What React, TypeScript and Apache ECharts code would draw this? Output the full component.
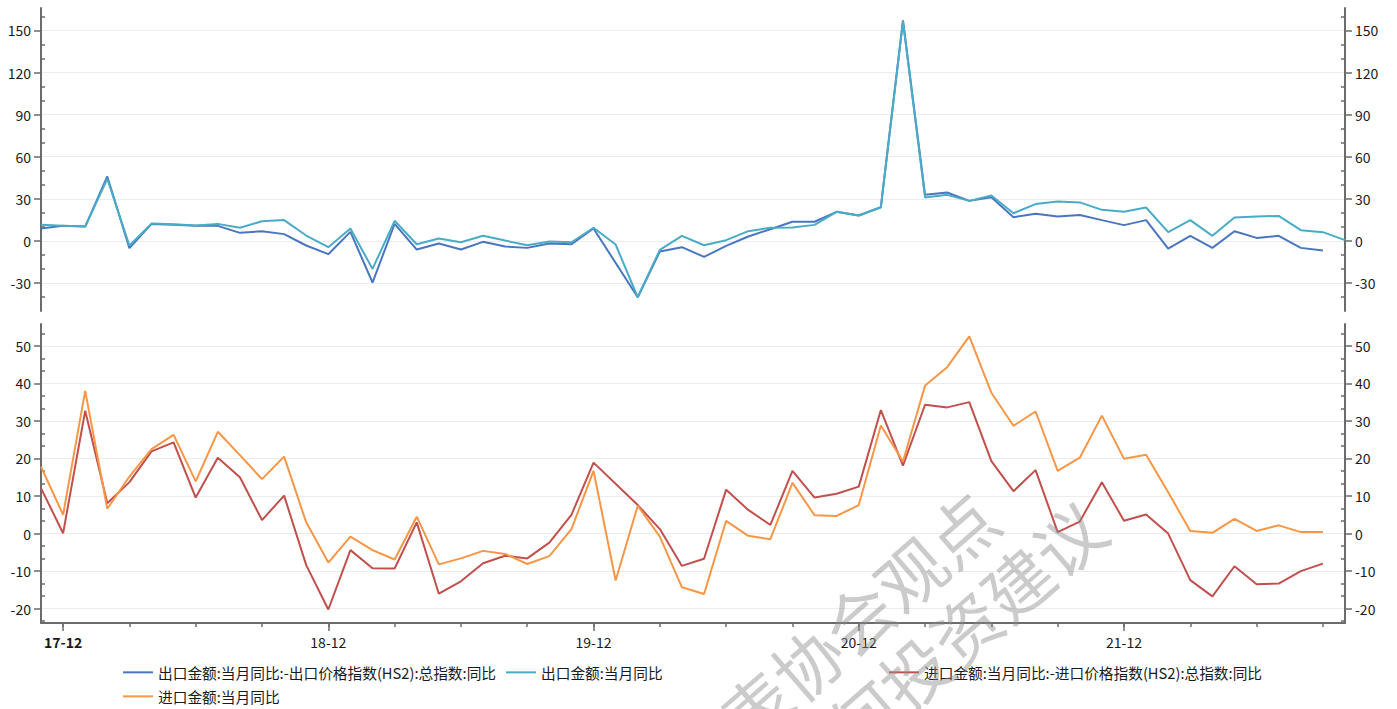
import React, { useEffect, useRef } from 'react';
import * as echarts from 'echarts';

const months = [
  '17-11', '17-12',
  '18-01', '18-02', '18-03', '18-04', '18-05', '18-06', '18-07', '18-08', '18-09', '18-10', '18-11', '18-12',
  '19-01', '19-02', '19-03', '19-04', '19-05', '19-06', '19-07', '19-08', '19-09', '19-10', '19-11', '19-12',
  '20-01', '20-02', '20-03', '20-04', '20-05', '20-06', '20-07', '20-08', '20-09', '20-10', '20-11', '20-12',
  '21-01', '21-02', '21-03', '21-04', '21-05', '21-06', '21-07', '21-08', '21-09', '21-10', '21-11', '21-12',
  '22-01', '22-02', '22-03', '22-04', '22-05', '22-06', '22-07', '22-08', '22-09', '22-10',
];

const exportNetOfPrice = [
  8.8, 10.7, 10.2, 45.9, -5.2, 12.1, 11.4, 10.7, 10.7, 5.7, 6.9, 4.8, -3.3, -9.5,
  6.4, -29.7, 12.1, -6.2, -1.9, -6.2, -0.7, -4.0, -5.0, -1.9, -2.4, 8.8,
  null, -40.2, -7.6, -4.5, -11.4, -3.6, 3.1, 8.3, 13.6, 13.6, 20.7, 18.1,
  24.0, 157.2, 32.8, 34.5, 28.5, 31.1, 16.9, 19.3, 17.3, 18.5, 14.8, 11.2,
  14.8, -5.5, 3.6, -5.0, 6.9, 2.1, 3.6, -5.0, -6.9, null,
];

const exportYoY = [
  11.4, 10.7, 10.2, 44.2, -3.3, 12.3, 11.9, 10.9, 12.1, 9.3, 14.0, 14.8, 3.8, -4.5,
  8.8, -20.0, 14.3, -2.4, 1.7, -1.0, 3.6, 0.2, -3.1, -0.5, -1.0, 9.3,
  -2.6, -40.2, -6.4, 3.6, -3.1, 0.5, 6.9, 9.3, 9.5, 11.4, 20.7, 18.1,
  24.0, 156.5, 30.9, 32.8, 28.5, 32.3, 19.7, 26.2, 28.1, 27.4, 22.1, 20.7,
  23.8, 6.2, 14.8, 3.6, 16.6, 17.3, 17.8, 7.6, 6.2, 0.5,
];

const importNetOfPrice = [
  12.1, 0.1, 32.7, 8.1, 13.7, 21.9, 24.3, 9.6, 20.2, 15.0, 3.6, 10.1, -8.4, -20.2,
  -4.4, -9.2, -9.3, 3.0, -16.0, -12.7, -7.9, -5.9, -6.6, -2.4, 5.0, 18.9,
  null, 7.6, 1.2, -8.6, -6.7, 11.7, 6.3, 2.3, 16.7, 9.6, 10.6, 12.5,
  32.9, 18.1, 34.3, 33.6, 35.0, 19.3, 11.3, 16.9, 0.4, 3.2, 13.7, 3.4,
  5.1, 0.0, -12.4, -16.7, -8.7, -13.5, -13.3, -10.0, -8.0, null,
];

const importYoY = [
  17.8, 5.0, 38.0, 6.6, 15.2, 22.5, 26.3, 13.9, 27.1, 20.9, 14.5, 20.5, 3.0, -7.7,
  -0.8, -4.4, -6.9, 4.5, -8.2, -6.6, -4.6, -5.4, -8.1, -6.0, 1.2, 16.7,
  -12.5, 7.4, -0.8, -14.3, -16.1, 3.4, -0.6, -1.5, 13.5, 4.9, 4.7, 7.6,
  28.8, 19.2, 39.4, 44.3, 52.5, 37.5, 28.7, 32.5, 16.7, 20.2, 31.4, 19.9,
  21.0, 11.0, 0.7, 0.2, 3.9, 0.7, 2.2, 0.4, 0.4, null,
];

const seriesNames = [
  '出口金额:当月同比:-出口价格指数(HS2):总指数:同比',
  '出口金额:当月同比',
  '进口金额:当月同比:-进口价格指数(HS2):总指数:同比',
  '进口金额:当月同比',
];

const topMajorTicks = [-30, 0, 30, 60, 90, 120, 150];
const topMinorTicks = [-40, -20, -10, 10, 20, 40, 50, 70, 80, 100, 110, 130, 140, 160];
const bottomMajorTicks = [-20, -10, 0, 10, 20, 30, 40, 50];
const bottomMinorTicks = [
  -23.333, -16.667, -13.333, -6.667, -3.333, 3.333, 6.667, 13.333, 16.667,
  23.333, 26.667, 33.333, 36.667, 43.333, 46.667, 53.333,
];

const watermarkLines = ['不代表协会观点', '不构成任何投资建议'];

const FONT = '"Noto Sans CJK SC", "Noto Sans", sans-serif';
const AXIS_COLOR = '#6b6b6b';
const TEXT_COLOR = '#1a1a1a';
const COLORS = ['#4a76bf', '#4aabc6', '#c0504d', '#f79646'];

function majorAxis(grid: number, pos: string, min: number, max: number, ticks: number[]) {
  return {
    type: 'value',
    gridIndex: grid,
    position: pos,
    min,
    max,
    axisLine: { show: true, onZero: false, lineStyle: { color: AXIS_COLOR, width: 2 } },
    axisTick: { show: true, inside: false, length: 7, customValues: ticks, lineStyle: { color: AXIS_COLOR, width: 1.5 } },
    axisLabel: { show: true, customValues: ticks, margin: 10, color: TEXT_COLOR, fontSize: 14, fontFamily: FONT },
    splitLine: { show: pos === 'left', lineStyle: { color: '#ececec', width: 1 } },
  };
}

function minorAxis(grid: number, pos: string, min: number, max: number, ticks: number[]) {
  return {
    type: 'value',
    gridIndex: grid,
    position: pos,
    min,
    max,
    axisLine: { show: false, onZero: false },
    axisTick: { show: true, inside: true, length: 4, customValues: ticks, lineStyle: { color: AXIS_COLOR, width: 1.5 } },
    axisLabel: { show: false },
    splitLine: { show: false },
  };
}

function legendAt(name: string, left: number, top: number) {
  return {
    data: [name],
    left,
    top,
    padding: 0,
    icon: 'rect',
    itemWidth: 30,
    itemHeight: 2,
    selectedMode: false,
    textStyle: { fontSize: 14.7, color: TEXT_COLOR, fontFamily: FONT },
  };
}

export default function App() {
  const ref = useRef<HTMLDivElement>(null);

  useEffect(() => {
    if (!ref.current) return;
    const chart = echarts.init(ref.current, undefined, { renderer: 'svg' });
    const topMin = -50, topMax = 166;
    const botMin = -23.8, botMax = 55.8;

    const option: any = {
      animation: false,
      backgroundColor: '#ffffff',
      textStyle: { fontFamily: FONT },
      grid: [
        { left: 41, right: 52, top: 8, height: 303 },
        { left: 41, right: 52, top: 324, height: 299 },
      ],
      xAxis: [
        { type: 'category', gridIndex: 0, data: months, boundaryGap: false, show: false },
        {
          type: 'category',
          gridIndex: 1,
          position: 'bottom',
          data: months,
          boundaryGap: false,
          axisLine: { show: true, onZero: false, lineStyle: { color: AXIS_COLOR, width: 2 } },
          axisTick: { show: true, interval: (i: number) => i % 3 === 1, length: 4, lineStyle: { color: AXIS_COLOR, width: 1.5 } },
          axisLabel: {
            show: true,
            interval: (i: number) => i % 12 === 1,
            margin: 12,
            color: TEXT_COLOR,
            fontSize: 14,
            fontFamily: FONT,
            formatter: (v: string) => (v === months[1] ? '{b|' + v + '}' : v),
            rich: { b: { fontWeight: 'bold', fontSize: 14, fontFamily: FONT, color: TEXT_COLOR } },
          },
          splitLine: { show: false },
        },
        {
          type: 'category',
          gridIndex: 1,
          position: 'bottom',
          data: months,
          boundaryGap: false,
          axisLine: { show: false, onZero: false },
          axisTick: { show: true, interval: (i: number) => i % 12 === 1, length: 8, lineStyle: { color: AXIS_COLOR, width: 1.5 } },
          axisLabel: { show: false },
          splitLine: { show: false },
        },
      ],
      yAxis: [
        majorAxis(0, 'left', topMin, topMax, topMajorTicks),
        minorAxis(0, 'left', topMin, topMax, topMinorTicks),
        majorAxis(0, 'right', topMin, topMax, topMajorTicks),
        minorAxis(0, 'right', topMin, topMax, topMinorTicks),
        majorAxis(1, 'left', botMin, botMax, bottomMajorTicks),
        minorAxis(1, 'left', botMin, botMax, bottomMinorTicks),
        majorAxis(1, 'right', botMin, botMax, bottomMajorTicks),
        minorAxis(1, 'right', botMin, botMax, bottomMinorTicks),
      ],
      legend: [
        legendAt(seriesNames[0], 123, 665),
        legendAt(seriesNames[1], 506, 665),
        legendAt(seriesNames[2], 889, 665),
        legendAt(seriesNames[3], 123, 689),
      ],
      series: [
        { name: seriesNames[0], data: exportNetOfPrice, xAxisIndex: 0, yAxisIndex: 0, color: COLORS[0] },
        { name: seriesNames[1], data: exportYoY, xAxisIndex: 0, yAxisIndex: 0, color: COLORS[1] },
        { name: seriesNames[2], data: importNetOfPrice, xAxisIndex: 1, yAxisIndex: 4, color: COLORS[2] },
        { name: seriesNames[3], data: importYoY, xAxisIndex: 1, yAxisIndex: 4, color: COLORS[3] },
      ].map((s, i) => ({
        ...s,
        type: 'line',
        symbol: 'none',
        showSymbol: false,
        connectNulls: true,
        z: 2 + i,
        lineStyle: { width: 2, color: s.color },
        itemStyle: { color: s.color },
      })),
      graphic: [
        {
          type: 'text',
          x: 986,
          y: 505,
          rotation: (41 * Math.PI) / 180,
          silent: true,
          z: 100,
          style: {
            text: watermarkLines[0],
            fontSize: 68,
            fontFamily: FONT,
            fill: 'rgba(140,140,140,0.45)',
            align: 'right',
            verticalAlign: 'middle',
          },
        },
        {
          type: 'text',
          x: 1093,
          y: 515,
          rotation: (41 * Math.PI) / 180,
          silent: true,
          z: 100,
          style: {
            text: watermarkLines[1],
            fontSize: 68,
            fontFamily: FONT,
            fill: 'rgba(140,140,140,0.45)',
            align: 'right',
            verticalAlign: 'middle',
          },
        },
      ],
    };

    chart.setOption(option);
    return () => chart.dispose();
  }, []);

  return (
    <div
      ref={ref}
      style={{ position: 'absolute', left: 0, top: 0, width: 1397, height: 709, background: '#fff' }}
    />
  );
}
